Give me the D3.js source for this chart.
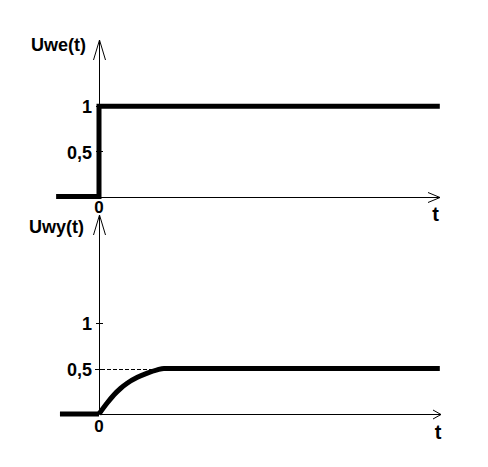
<!DOCTYPE html>
<html><head><meta charset="utf-8">
<script src="https://cdn.jsdelivr.net/npm/d3@7/dist/d3.min.js"></script>
<style>html,body{margin:0;padding:0;background:#fff}svg{display:block}</style>
</head><body><svg id="c" width="488" height="467"></svg>
<script>
// ---- data ----
const tIn  = [-1.34, 0, 0, 10.65];
const uIn  = [0, 0, 1, 1];
const tOut = [0, 0.26, 0.47, 0.68, 0.88, 1.2, 1.51, 1.82, 2.03, 10.65];
const uOut = [0, 0.123, 0.212, 0.283, 0.338, 0.403, 0.450, 0.485, 0.5, 0.5];
const tOutPre = [-1.22, 0];
const uOutPre = [0, 0];
const yTickValues = [0.5, 1];
const yTickLabels = ["0,5", "1"];
const titleTop = "Uwe(t)";
const titleBot = "Uwy(t)";
const xLabel = "t";
const originLabel = "0";
const refLevel = 0.5;

// ---- scales ----
const svg = d3.select("#c");
const FONT = "'Liberation Sans', Arial, sans-serif";
const x = d3.scaleLinear().domain([0, 10]).range([99, 419]);
const yTop = d3.scaleLinear().domain([0, 1]).range([196.5, 106.3]);
const yBot = d3.scaleLinear().domain([0, 1]).range([414, 323]);

function crisp(v) { return Math.round(v) + 0.5; }

function drawAxes(y, o) {
  const g = svg.append("g");
  const ax = crisp(x(0));
  const ay = crisp(y(0));
  // vertical axis
  g.append("line").attr("x1", ax).attr("x2", ax).attr("y1", ay).attr("y2", o.yTip)
    .attr("stroke", "#000").attr("stroke-width", 1);
  g.append("path").attr("d", `M${ax - o.yW},${o.yTip + o.yL}L${ax},${o.yTip}L${ax + o.yW},${o.yTip + o.yL}`)
    .attr("fill", "none").attr("stroke", "#000").attr("stroke-width", 1);
  // horizontal axis
  g.append("line").attr("x1", ax).attr("x2", o.xTip).attr("y1", ay).attr("y2", ay)
    .attr("stroke", "#000").attr("stroke-width", 1);
  g.append("path").attr("d", `M${o.xTip - o.xL},${ay - o.xW}L${o.xTip},${ay}L${o.xTip - o.xL},${ay + o.xW}`)
    .attr("fill", "none").attr("stroke", "#000").attr("stroke-width", 1);
  // ticks
  g.selectAll(".tk").data(yTickValues).enter().append("line")
    .attr("x1", ax - 3.5).attr("x2", ax + 3.5)
    .attr("y1", d => crisp(y(d))).attr("y2", d => crisp(y(d)))
    .attr("stroke", "#000").attr("stroke-width", 1);
  // tick labels via d3 axis
  const axis = d3.axisLeft(y).tickValues(yTickValues).tickSize(0).tickPadding(0)
    .tickFormat((d, i) => yTickLabels[i]);
  const ag = svg.append("g").attr("transform", `translate(92,0)`).call(axis);
  ag.select(".domain").remove();
  ag.selectAll("text").attr("font-family", FONT).attr("font-weight", "bold")
    .attr("font-size", 18).attr("fill", "#000").attr("dy", "0.37em");
  // title
  svg.append("text").attr("x", o.titleX).attr("y", o.titleY).text(o.title)
    .attr("font-family", FONT).attr("font-weight", "bold").attr("font-size", 18).attr("fill", "#000");
  // origin label
  svg.append("text").attr("x", x(0)).attr("y", o.zeroY).text(originLabel).attr("text-anchor", "middle")
    .attr("font-family", FONT).attr("font-weight", "bold").attr("font-size", 17).attr("fill", "#000");
  // t label
  svg.append("text").attr("x", o.tX).attr("y", o.tY).text(xLabel).attr("text-anchor", "middle")
    .attr("font-family", FONT).attr("font-weight", "bold").attr("font-size", 20).attr("fill", "#000");
}

drawAxes(yTop, {yTip: 40, yW: 6, yL: 20, xTip: 440, xL: 12, xW: 5,
  title: titleTop, titleX: 31, titleY: 51, zeroY: 213, tX: 435.5, tY: 220.5});
drawAxes(yBot, {yTip: 215, yW: 6, yL: 20, xTip: 441, xL: 8, xW: 4.5,
  title: titleBot, titleX: 29, titleY: 233, zeroY: 432, tX: 438, tY: 439});

// dashed reference line at 0.5 in the output panel
const plateauStart = tOut[uOut.indexOf(refLevel)];
svg.append("line").attr("x1", x(0) - 4).attr("x2", x(plateauStart))
  .attr("y1", crisp(yBot(refLevel))).attr("y2", crisp(yBot(refLevel)))
  .attr("stroke", "#000").attr("stroke-width", 1).attr("stroke-dasharray", "4,2");

// input step
const lineIn = d3.line().x((d, i) => x(tIn[i])).y((d, i) => yTop(uIn[i]));
svg.append("path").attr("d", lineIn(tIn)).attr("fill", "none").attr("stroke", "#000")
  .attr("stroke-width", 5).attr("stroke-linejoin", "miter");

// output response
const linePre = d3.line().x((d, i) => x(tOutPre[i])).y((d, i) => yBot(uOutPre[i]));
svg.append("path").attr("d", linePre(tOutPre)).attr("fill", "none").attr("stroke", "#000")
  .attr("stroke-width", 5);
const lineOut = d3.line().curve(d3.curveMonotoneX).x((d, i) => x(tOut[i])).y((d, i) => yBot(uOut[i]));
svg.append("path").attr("d", lineOut(tOut)).attr("fill", "none").attr("stroke", "#000")
  .attr("stroke-width", 5);
</script>
</body></html>
